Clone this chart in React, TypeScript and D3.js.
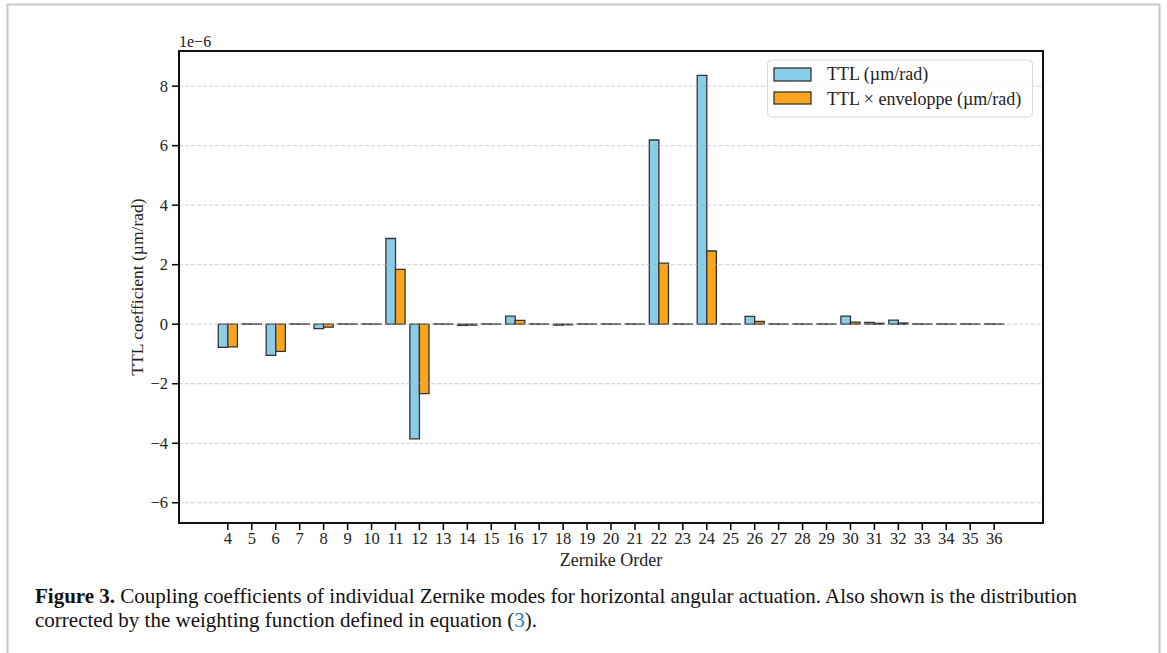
import { scaleLinear } from 'd3';

const W = 1167;
const H = 653;
const BLUE = '#89cdea';
const ORANGE = '#fba51c';
const EDGE = '#333333';
const FONT = '"Liberation Serif", "DejaVu Serif", serif';

// Zernike orders and coefficients (units of 1e-6)
const orders = [
  4, 5, 6, 7, 8, 9, 10, 11, 12, 13, 14, 15, 16, 17, 18, 19, 20,
  21, 22, 23, 24, 25, 26, 27, 28, 29, 30, 31, 32, 33, 34, 35, 36,
];
const ttl = [
  -0.78, 0.01, -1.05, 0.01, -0.15, 0.01, 0.01, 2.88, -3.85, 0.01, -0.04, 0.01, 0.27, 0.01, -0.03, 0.01, 0.01,
  0.01, 6.19, 0.01, 8.36, 0.01, 0.26, 0.01, 0.01, 0.01, 0.27, 0.06, 0.14, 0.01, 0.01, 0.01, 0.01,
];
const ttlEnvelope = [
  -0.76, 0.005, -0.91, 0.005, -0.1, 0.005, 0.005, 1.84, -2.33, 0.005, -0.03, 0.005, 0.13, 0.005, -0.02, 0.005, 0.005,
  0.005, 2.05, 0.005, 2.46, 0.005, 0.09, 0.005, 0.005, 0.005, 0.07, 0.03, 0.04, 0.005, 0.005, 0.005, 0.005,
];
const yTicks = [-6, -4, -2, 0, 2, 4, 6, 8];
const seriesLabels = ['TTL (\u00b5m/rad)', 'TTL \u00d7 enveloppe (\u00b5m/rad)'];

const X0 = 179;
const X1 = 1043;
const Y0 = 51;
const Y1 = 523;
const BAR_W = 0.4;

const x = scaleLinear().domain([1.96, 38.04]).range([X0, X1]);
const y = scaleLinear().domain([-6.68, 9.18]).range([Y1, Y0]);

// path instead of rect so zero-height bars still show their outline
function barPath(left: number, right: number, v: number) {
  const a = x(left);
  const b = x(right);
  const t = y(Math.max(v, 0));
  const u = y(Math.min(v, 0));
  return `M${a},${u}L${a},${t}L${b},${t}L${b},${u}Z`;
}

export default function App() {
  return (
    <div style={{ position: 'absolute', left: 0, top: 0 }}>
      <svg width={W} height={H} style={{ display: 'block', fontFamily: FONT }}>
        <rect x={0} y={0} width={W} height={H} fill="#fff" />
        <rect x={7.5} y={4.5} width={1152} height={660} fill="none" stroke="#c8c8c8" strokeWidth={2} />

        {/* bars */}
        {orders.map((o, i) => (
          <g key={o}>
            <path d={barPath(o - BAR_W, o, ttl[i])} fill={BLUE} stroke={EDGE} strokeWidth={1.3} />
            <path d={barPath(o, o + BAR_W, ttlEnvelope[i])} fill={ORANGE} stroke={EDGE} strokeWidth={1.3} />
          </g>
        ))}

        {/* grid on top of bars, as matplotlib does */}
        {yTicks.map(t => (
          <line
            key={t}
            x1={X0} x2={X1} y1={y(t)} y2={y(t)}
            stroke="#b0b0b0" strokeOpacity={0.6} strokeWidth={1}
            strokeDasharray="4 2"
          />
        ))}

        {/* y axis ticks */}
        {yTicks.map(t => (
          <g key={t}>
            <line x1={X0 - 7} x2={X0} y1={y(t)} y2={y(t)} stroke="#000" strokeWidth={1.5} />
            <text x={X0 - 11} y={y(t) + 5.5} textAnchor="end" fontSize={16.5} fill="#222">
              {t < 0 ? `\u2212${-t}` : t}
            </text>
          </g>
        ))}

        {/* x axis ticks */}
        {orders.map(o => (
          <g key={o}>
            <line x1={x(o)} x2={x(o)} y1={Y1} y2={Y1 + 7} stroke="#000" strokeWidth={1.5} />
            <text x={x(o)} y={Y1 + 21} textAnchor="middle" fontSize={16.5} fill="#222">{o}</text>
          </g>
        ))}

        {/* frame */}
        <rect x={X0} y={Y0} width={X1 - X0} height={Y1 - Y0} fill="none" stroke="#111" strokeWidth={2} />

        <text x={X0} y={Y0 - 4} fontSize={16} fill="#222">1e{'\u2212'}6</text>

        <text x={(X0 + X1) / 2} y={Y1 + 43} textAnchor="middle" fontSize={18} fill="#222">Zernike Order</text>
        <text
          transform={`translate(143,${(Y0 + Y1) / 2}) rotate(-90)`}
          textAnchor="middle" fontSize={17.5} fill="#222"
        >
          TTL coefficient ({'\u00b5'}m/rad)
        </text>

        {/* legend */}
        <rect x={767.5} y={60} width={265} height={57} rx={4} fill="#fff" fillOpacity={0.8} stroke="#d8d8d8" strokeWidth={1} />
        <rect x={774} y={68} width={37} height={13} fill={BLUE} stroke={EDGE} strokeWidth={1.3} />
        <rect x={774} y={92} width={37} height={12} fill={ORANGE} stroke={EDGE} strokeWidth={1.3} />
        <text x={827} y={80} fontSize={18} fill="#222">{seriesLabels[0]}</text>
        <text x={827} y={105} fontSize={18} fill="#222">{seriesLabels[1]}</text>

        {/* caption */}
        <text x={35} y={603} fontSize={21} fill="#111">
          <tspan fontWeight="bold">Figure 3.</tspan>
          <tspan> Coupling coefficients of individual Zernike modes for horizontal angular actuation. Also shown is the distribution</tspan>
        </text>
        <text x={35} y={627} fontSize={21} fill="#111">
          corrected by the weighting function defined in equation (<tspan fill="#2b7bb9">3</tspan>).
        </text>
      </svg>
    </div>
  );
}
